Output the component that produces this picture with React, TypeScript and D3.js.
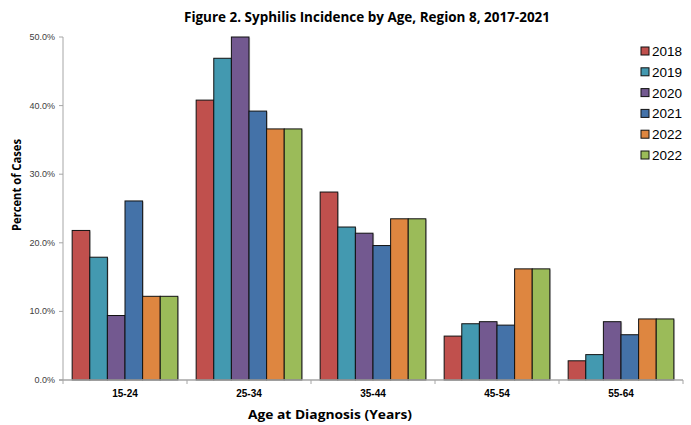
import React from "react";
import * as d3 from "d3";

const categories = ["15-24", "25-34", "35-44", "45-54", "55-64"];
const seriesNames = ["2018", "2019", "2020", "2021", "2022", "2022"];
const v2018 = [21.8, 40.8, 27.4, 6.4, 2.8];
const v2019 = [17.9, 46.9, 22.3, 8.2, 3.7];
const v2020 = [9.4, 50.0, 21.4, 8.5, 8.5];
const v2021 = [26.1, 39.2, 19.6, 8.0, 6.6];
const v2022a = [12.2, 36.6, 23.5, 16.2, 8.9];
const v2022b = [12.2, 36.6, 23.5, 16.2, 8.9];
const seriesValues = [v2018, v2019, v2020, v2021, v2022a, v2022b];
const colors = ["#C0504D", "#4399B0", "#735990", "#4472A8", "#DE8640", "#9BBB59"];
const yTicks = [0, 10, 20, 30, 40, 50];

export default function App() {
  const W = 691, H = 425;
  const left = 63, right = 683, top = 37, bottom = 380;
  const x0 = d3.scaleBand<string>().domain(categories).range([left, right]).paddingInner(0).paddingOuter(0);
  const x1 = d3.scaleBand<number>().domain(d3.range(seriesNames.length)).range([0, x0.bandwidth()]).paddingInner(0).paddingOuter(0.52);
  const y = d3.scaleLinear().domain([0, 50]).range([bottom, top]);
  const font = "'Liberation Sans', Arial, sans-serif";
  const boundaries = categories.map((c) => x0(c)!).concat([right]);

  return (
    <svg width={W} height={H} style={{ position: "absolute", left: 0, top: 0, background: "#fff" }}>
      <text x={367} y={22} textAnchor="middle" fontFamily="'Open Sans', sans-serif" fontWeight="bold" fontSize={14} textLength={366} lengthAdjust="spacingAndGlyphs" fill="#000">
        Figure 2. Syphilis Incidence by Age, Region 8, 2017-2021
      </text>
      {/* bars */}
      {seriesValues.map((vals, si) =>
        categories.map((c, ci) => {
          const bx = x0(c)! + x1(si)!;
          const by = y(vals[ci]);
          const bw = x1.bandwidth();
          const bh = bottom - by;
          return (
            <g key={`${si}-${ci}`}>
              <rect x={bx + 1.2} y={by + 0.8} width={bw} height={bh - 0.8} fill="#999" opacity={0.45} />
              <rect x={bx} y={by} width={bw} height={bh} fill={colors[si]} stroke="#111" strokeWidth={1} />
            </g>
          );
        })
      )}
      {/* y axis */}
      <line x1={left} x2={left} y1={top} y2={bottom} stroke="#A6A6A6" strokeWidth={1} />
      {yTicks.map((t) => (
        <g key={t}>
          <line x1={left - 4} x2={left} y1={y(t)} y2={y(t)} stroke="#A6A6A6" />
          <text x={left - 8} y={y(t) + 3} textAnchor="end" fontFamily={font} fontSize={9} fill="#404040">
            {t.toFixed(1)}%
          </text>
        </g>
      ))}
      {/* x axis */}
      <line x1={left - 4} x2={right} y1={bottom} y2={bottom} stroke="#A6A6A6" strokeWidth={1.5} />
      {boundaries.map((b, i) => (
        <line key={i} x1={b} x2={b} y1={bottom} y2={bottom + 4} stroke="#A6A6A6" />
      ))}
      {categories.map((c) => (
        <text key={c} x={x0(c)! + x0.bandwidth() / 2} y={397} textAnchor="middle" fontFamily={font} fontWeight="bold" fontSize={10} fill="#000">
          {c}
        </text>
      ))}
      <text x={330} y={419} textAnchor="middle" fontFamily="'Open Sans', sans-serif" fontWeight="bold" fontSize={12} textLength={164} lengthAdjust="spacingAndGlyphs" fill="#000">
        Age at Diagnosis (Years)
      </text>
      <text transform="translate(21,185) rotate(-90)" textAnchor="middle" fontFamily="'Open Sans', sans-serif" fontWeight="bold" fontSize={12} textLength={92} lengthAdjust="spacingAndGlyphs" fill="#000">
        Percent of Cases
      </text>
      {/* legend */}
      {seriesNames.map((n, i) => {
        const ly = 51 + i * 20.8;
        return (
          <g key={i}>
            <rect x={641} y={ly - 4} width={8} height={8} fill={colors[i]} stroke="#111" strokeWidth={1} />
            <text x={652} y={ly + 5} fontFamily={font} fontSize={13.5} fill="#000">
              {n}
            </text>
          </g>
        );
      })}
    </svg>
  );
}
